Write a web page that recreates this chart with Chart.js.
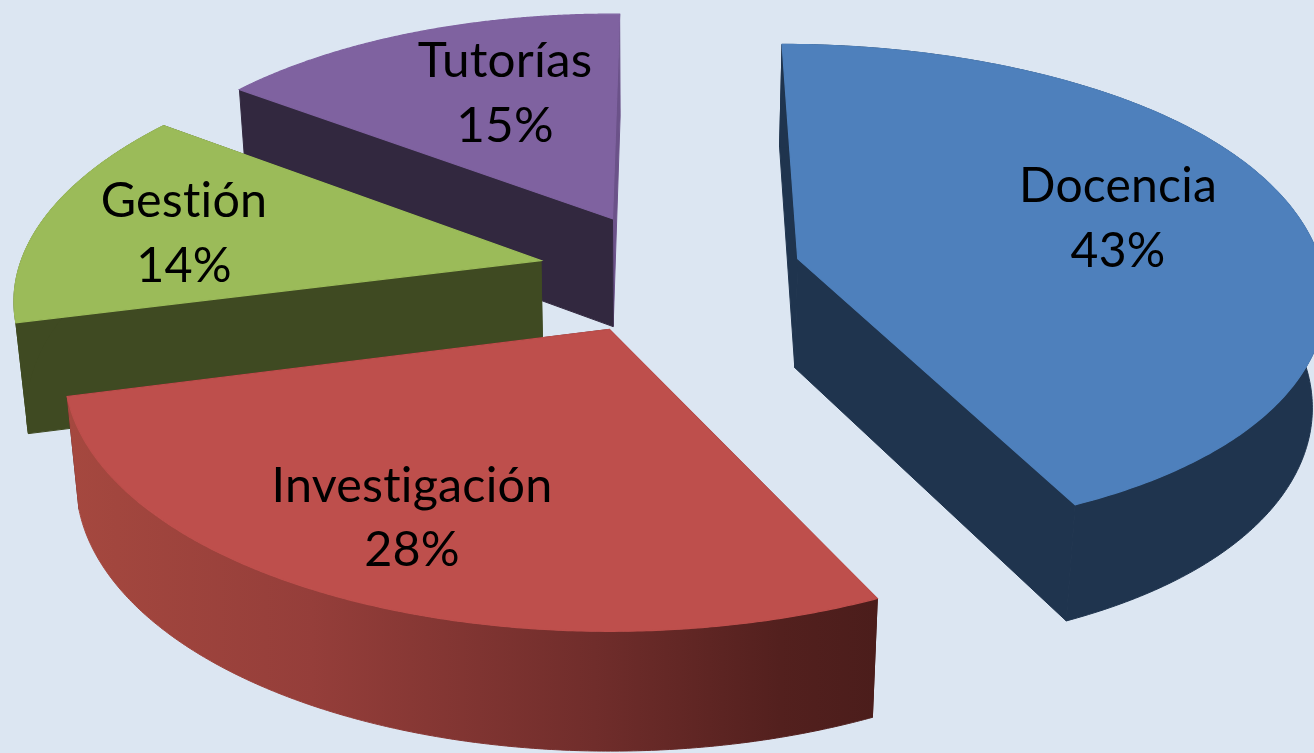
<!DOCTYPE html>
<html lang="es">
<head>
<meta charset="utf-8">
<title>Distribución</title>
<style>
html,body{margin:0;padding:0;background:#DCE6F2;overflow:hidden}
canvas{display:block}
</style>
<script src="https://cdn.jsdelivr.net/npm/chart.js@4"></script>
</head>
<body>
<canvas id="c" width="1314" height="753"></canvas>
<script>
const categories = ["Docencia", "Investigación", "Gestión", "Tutorías"];
const percentages = [43, 28, 14, 15];
const topColors = ["#4E80BC", "#BE4F4C", "#9BBB59", "#7F62A0"];
const wallColors = ["#1F344E", "#4D1E1C", "#3F4A22", "#32283F"];
const endWallColors = ["#1F344E", "#4D1E1C", "#3F4A22", "#6B5289"];
const explodeOffset = 84;

// Ground plane -> image: perspective view of the pie fitted to the picture
const VIEW = {cx:672, shiftX:-0.007, rx:532, horizon:-1570, a:1842, k:0.133, vanishX:647};
const rimShiftStart = [-1, 10, 12, 14];
const rimShiftEnd = [5, 10, 13, 3];
const rimLiftStart = [-1, 0, 0, -3];
const rimLiftEnd = [-2, 0, -3, 0];
const apexShift = [0, 0, 3, 3];
function project(X, Y){
  const w = 1 - VIEW.k * Y;
  return {u: VIEW.cx + VIEW.rx * (X + VIEW.shiftX) / w, v: VIEW.horizon + VIEW.a / w};
}
function drop(p){
  const dv = 101.5 + 0.029 * p.v;
  return {u: p.u - (p.u - VIEW.vanishX) * 0.00018 * dv, v: p.v + dv};
}
function poly(ctx, pts, fill, edge){
  ctx.beginPath();
  pts.forEach((p,i)=> i ? ctx.lineTo(p.u,p.v) : ctx.moveTo(p.u,p.v));
  ctx.closePath();
  ctx.fillStyle = fill; ctx.strokeStyle = fill; ctx.lineWidth = edge;
  ctx.fill(); ctx.stroke();
}
const labelBoxes = [
  {x:1118, y1:202, y2:267, sx:1.0},
  {x:412,  y1:502, y2:566, sx:1.01},
  {x:184,  y1:217, y2:282, sx:1.01},
  {x:505,  y1:77,  y2:142, sx:1.03}
];
const drawOrder = [3, 2, 1, 0];

const pie3d = {
  id:'pie3d',
  beforeDatasetsDraw(chart){
    const ctx = chart.ctx;
    const arcs = chart.getDatasetMeta(0).data;
    drawOrder.forEach(i=>{
      const arc = arcs[i];
      const {startAngle, endAngle, outerRadius} = arc.getProps(['startAngle','endAngle','outerRadius'], true);
      const e = arc.options.offset / outerRadius;
      const mid = (startAngle + endAngle) / 2;
      const ax = Math.cos(mid) * e, ay = Math.sin(mid) * e;
      const apex = project(ax, ay);
      apex.u += apexShift[i];
      const rim = [];
      const N = 240;
      for(let s=0;s<=N;s++){
        const f = s / N;
        const t = startAngle + (endAngle - startAngle) * f;
        const p = project(ax + Math.cos(t), ay + Math.sin(t));
        p.u += rimShiftStart[i] + (rimShiftEnd[i] - rimShiftStart[i]) * f;
        p.v += rimLiftStart[i] + (rimLiftEnd[i] - rimLiftStart[i]) * f;
        if(p.u > 1100) p.u -= 10 * Math.pow((p.u - 1100) / 235, 2);
        rim.push(p);
      }
      const rimLow = rim.map(drop);
      let wallFill = wallColors[i];
      if(i === 1){
        const g = ctx.createLinearGradient(70,0,877,0);
        g.addColorStop(0,'#A5483F');
        g.addColorStop(0.3,'#953E3A');
        g.addColorStop(0.65,'#702D2B');
        g.addColorStop(0.88,'#53201E');
        g.addColorStop(1,'#4B1D1B');
        wallFill = g;
      }
      poly(ctx, [apex, rim[N], rimLow[N], drop(apex)], endWallColors[i], 1);
      poly(ctx, [apex, rim[0], rimLow[0], drop(apex)], wallColors[i], 1);
      if(i !== 3) poly(ctx, rim.concat(rimLow.slice().reverse()), wallFill, 1);
      poly(ctx, [apex].concat(rim), topColors[i], 1.2);
    });
    ctx.save();
    ctx.fillStyle = '#000';
    ctx.textAlign = 'center';
    ctx.textBaseline = 'alphabetic';
    ctx.font = '48px Lato';
    ctx.letterSpacing = '0.2px';
    categories.forEach((name,i)=>{
      const b = labelBoxes[i];
      [[name,b.y1],[percentages[i]+'%',b.y2]].forEach(([txt,y])=>{
        ctx.save();
        ctx.translate(b.x,y);
        ctx.scale(b.sx,1);
        ctx.fillText(txt,0,0);
        ctx.restore();
      });
    });
    ctx.restore();
    return false;
  }
};

new Chart(document.getElementById('c'), {
  type:'pie',
  data:{labels:categories, datasets:[{data:percentages, backgroundColor:topColors, offset:explodeOffset, borderWidth:0}]},
  options:{
    responsive:false, animation:false,
    layout:{padding:0},
    plugins:{legend:{display:false}, tooltip:{enabled:false}}
  },
  plugins:[pie3d]
});
</script>
</body>
</html>
